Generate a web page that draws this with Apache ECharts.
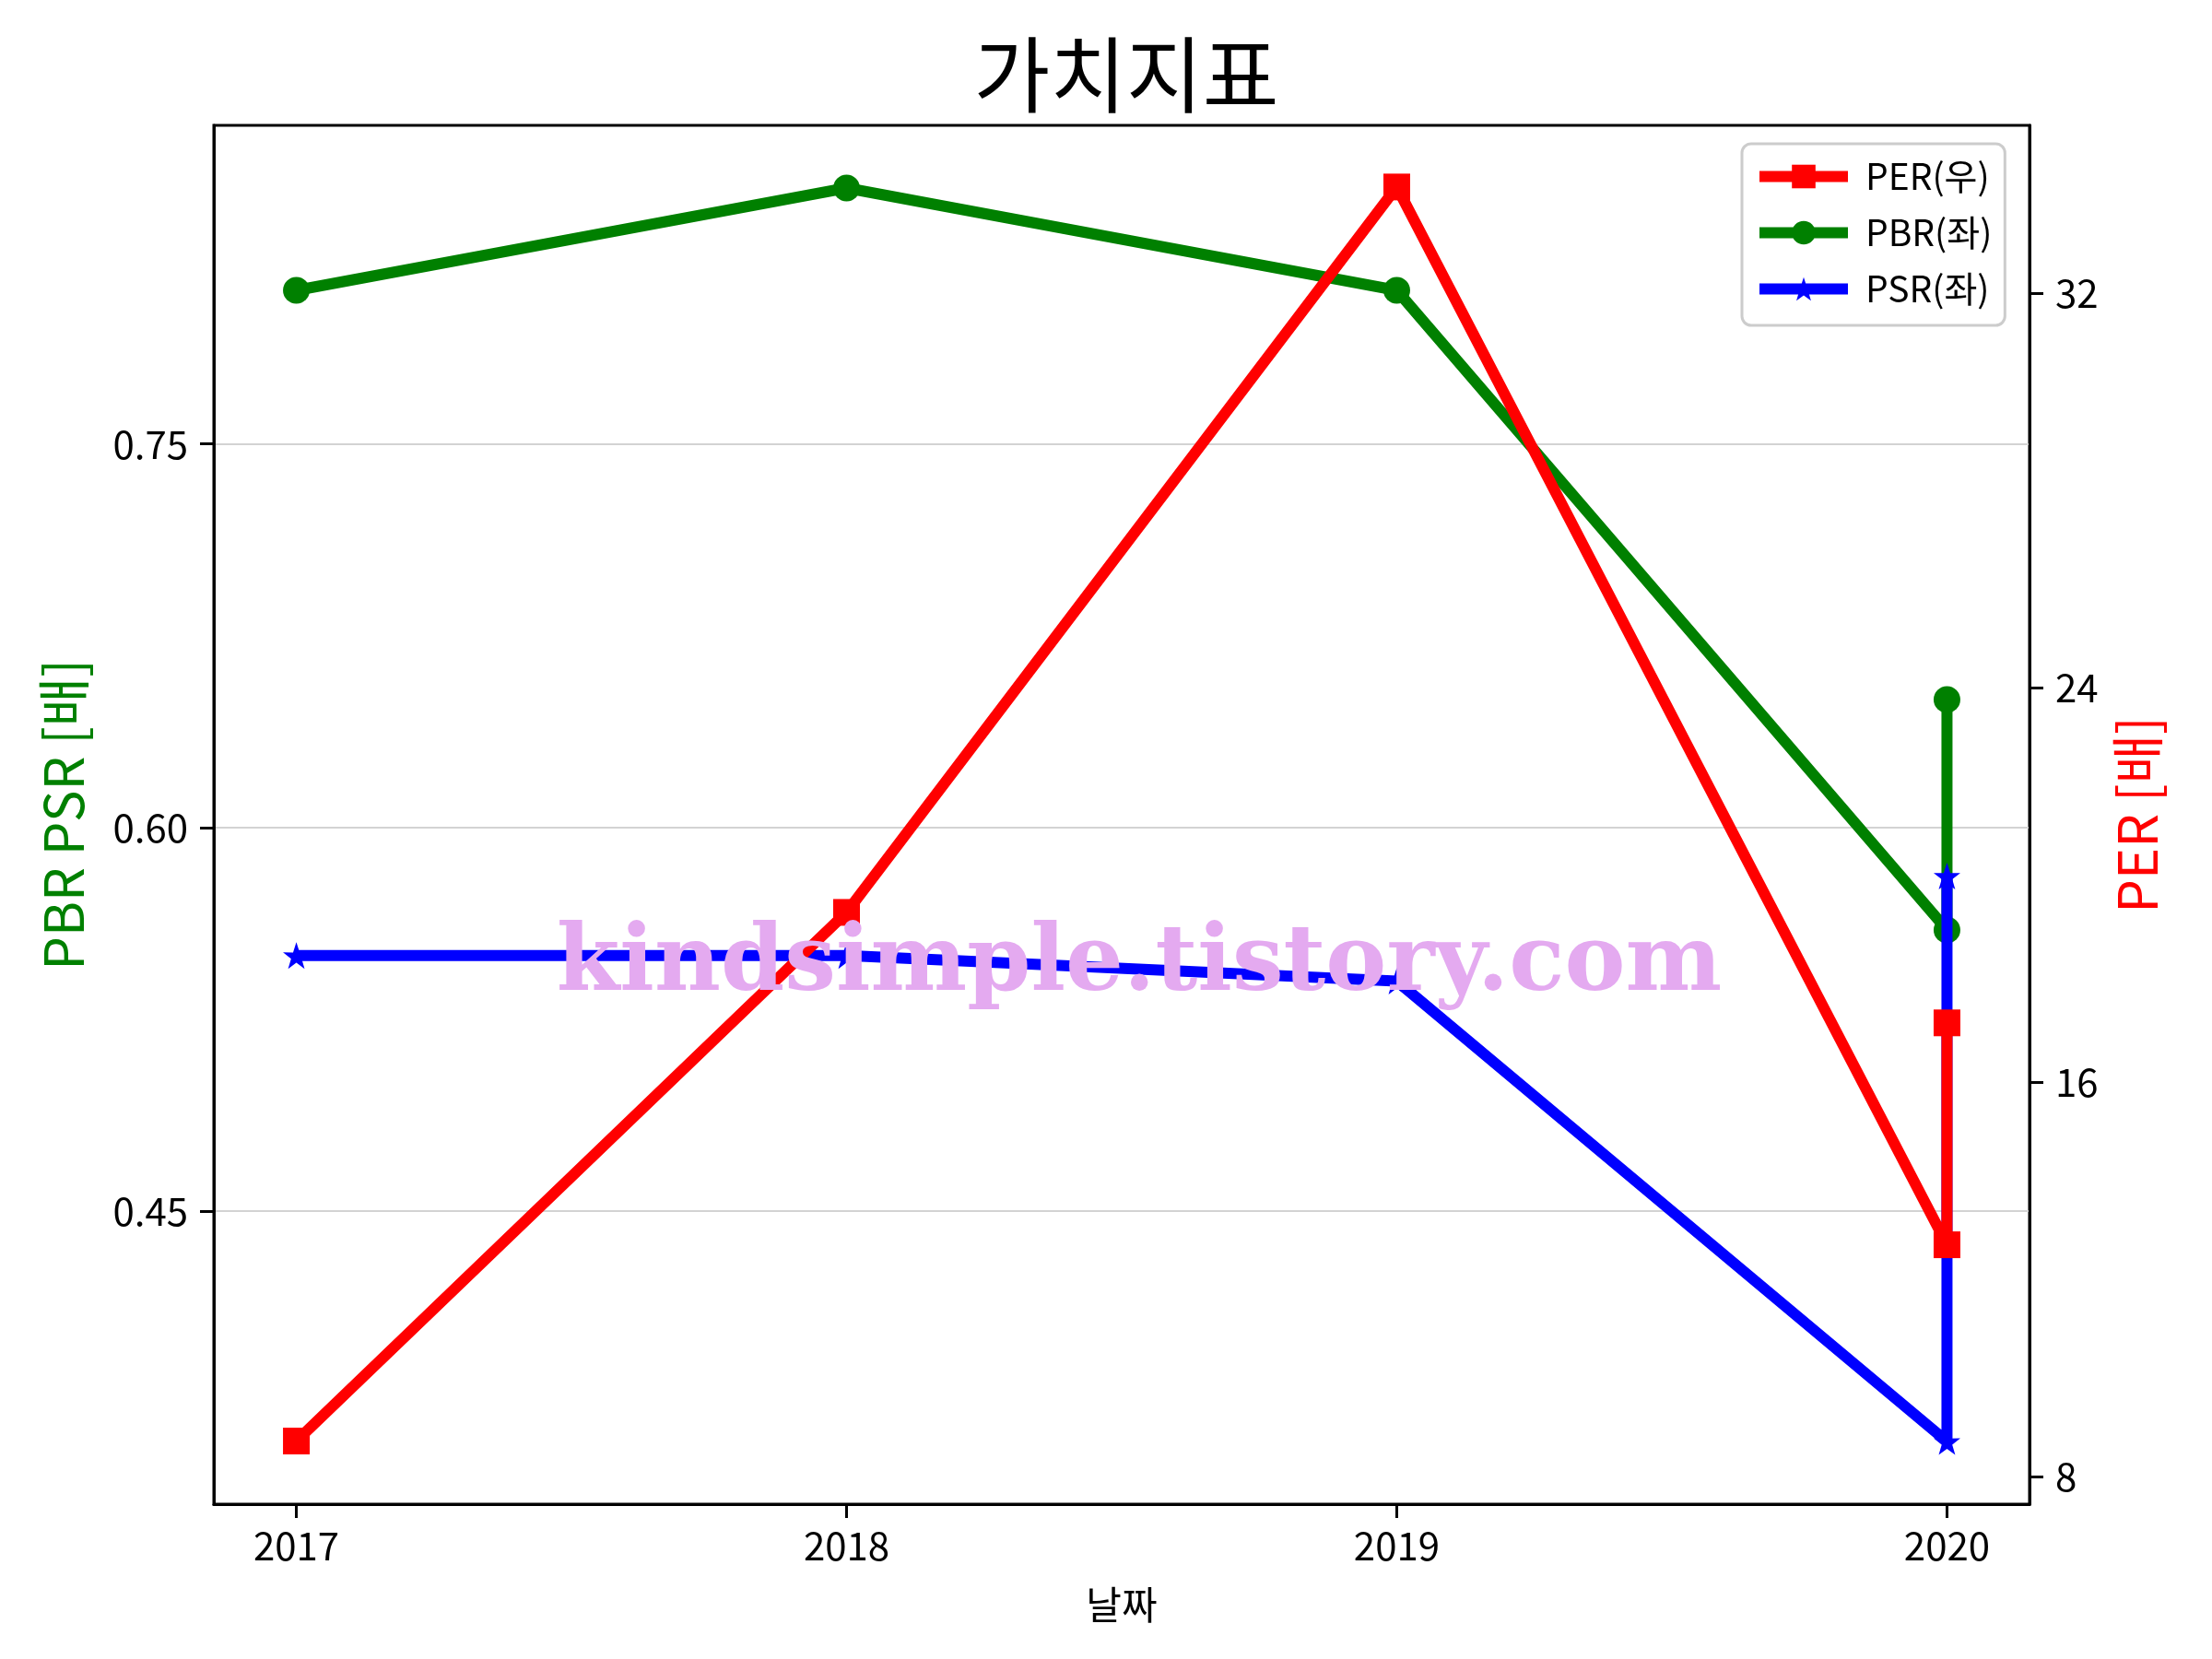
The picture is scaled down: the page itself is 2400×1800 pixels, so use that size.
<!DOCTYPE html>
<html>
<head>
<meta charset="utf-8">
<title>가치지표</title>
<script src="https://cdn.jsdelivr.net/npm/echarts@6/dist/echarts.min.js"></script>
<style>
  html, body { margin: 0; padding: 0; background: #fff; }
  #chart { width: 2400px; height: 1800px; }
</style>
</head>
<body>
<div id="chart"></div>
<script>
// 데이터
var years = [2017, 2018, 2019, 2020, 2020];
var perValues = [8.72, 19.44, 34.15, 12.70, 17.20];
var pbrValues = [0.810, 0.850, 0.810, 0.560, 0.650];
var psrValues = [0.550, 0.550, 0.540, 0.360, 0.581];

var xTicks = [2017, 2018, 2019, 2020];
var leftTicks = [0.45, 0.60, 0.75];
var rightTicks = [8, 16, 24, 32];

var FONT = '"Noto Sans CJK KR", "Noto Sans", sans-serif';
var STAR = 'path://M50,0 L61.8,35.1 L97.6,34.5 L68.8,56.2 L79.4,90.5 L50,70 L20.6,90.5 L31.2,56.2 L2.4,34.5 L38.2,35.1 Z';

function pairs(xs, ys) {
    var out = [];
    for (var i = 0; i < xs.length; i++) {
        out.push([xs[i], ys[i]]);
    }
    return out;
}

var chart = echarts.init(document.getElementById('chart'));

var axisLine = { show: true, lineStyle: { color: '#000', width: 3 } };
var axisTick = { show: true, inside: false, length: 15, lineStyle: { color: '#000', width: 3 } };

var option = {
    animation: false,
    backgroundColor: '#fff',
    title: {
        text: '가치지표',
        left: 1222,
        textAlign: 'center',
        top: 36,
        padding: 0,
        textStyle: { fontFamily: FONT, fontSize: 90, fontWeight: 'normal', color: '#000' }
    },
    legend: {
        orient: 'vertical',
        left: 1890,
        top: 156,
        padding: [16, 14, 20, 13],
        itemWidth: 96,
        itemHeight: 32,
        itemGap: 22,
        borderColor: '#cccccc',
        borderWidth: 3,
        borderRadius: 10,
        backgroundColor: 'rgba(255,255,255,0.8)',
        lineStyle: { width: 12 },
        textStyle: { fontFamily: FONT, fontSize: 39, color: '#000', padding: [0, 0, 0, 14] },
        data: ['PER(우)', 'PBR(좌)', 'PSR(좌)']
    },
    grid: {
        left: 232,
        right: 198,
        top: 136,
        bottom: 168,
        show: true,
        borderColor: '#000',
        borderWidth: 3,
        backgroundColor: 'transparent'
    },
    xAxis: {
        type: 'value',
        min: 2016.85,
        max: 2020.15,
        name: '날짜',
        nameLocation: 'middle',
        nameGap: 88,
        nameTextStyle: { fontFamily: FONT, fontSize: 42, color: '#000' },
        axisLine: axisLine,
        axisTick: Object.assign({ customValues: xTicks }, axisTick),
        axisLabel: {
            customValues: xTicks,
            margin: 24,
            fontFamily: FONT,
            fontSize: 42,
            color: '#000',
            formatter: function (v) { return String(v); }
        },
        splitLine: { show: false }
    },
    yAxis: [
        {
            type: 'value',
            position: 'left',
            min: 0.3355,
            max: 0.8745,
            name: 'PBR PSR [배]',
            nameLocation: 'middle',
            nameRotate: 90,
            nameGap: 134,
            nameTextStyle: { fontFamily: FONT, fontSize: 58, color: 'green' },
            axisLine: axisLine,
            axisTick: Object.assign({ customValues: leftTicks }, axisTick),
            axisLabel: {
                customValues: leftTicks,
                margin: 28,
                fontFamily: FONT,
                fontSize: 42,
                color: '#000',
                formatter: function (v) { return v.toFixed(2); }
            },
            splitLine: { show: true, lineStyle: { color: '#d3d3d3', width: 2 } }
        },
        {
            type: 'value',
            position: 'right',
            min: 7.44,
            max: 35.4,
            name: 'PER [배]',
            nameLocation: 'middle',
            nameRotate: 90,
            nameGap: 88,
            nameTextStyle: { fontFamily: FONT, fontSize: 58, color: 'red' },
            axisLine: axisLine,
            axisTick: Object.assign({ customValues: rightTicks }, axisTick),
            axisLabel: {
                customValues: rightTicks,
                margin: 28,
                fontFamily: FONT,
                fontSize: 42,
                color: '#000',
                formatter: function (v) { return String(v); }
            },
            splitLine: { show: false }
        }
    ],
    graphic: [
        {
            type: 'text',
            z: 100,
            x: 1236,
            y: 1048,
            style: {
                text: 'kindsimple.tistory.com',
                x: 0,
                y: 0,
                align: 'center',
                verticalAlign: 'middle',
                font: 'bold 99px "DejaVu Serif", serif',
                fill: '#e4aaf0'
            }
        }
    ],
    series: [
        {
            name: 'PER(우)',
            type: 'line',
            yAxisIndex: 1,
            z: 4,
            data: pairs(years, perValues),
            symbol: 'rect',
            symbolSize: 29,
            showAllSymbol: true,
            color: 'red',
            lineStyle: { color: 'red', width: 12 },
            itemStyle: { color: 'red' }
        },
        {
            name: 'PBR(좌)',
            type: 'line',
            yAxisIndex: 0,
            z: 2,
            data: pairs(years, pbrValues),
            symbol: 'circle',
            symbolSize: 29,
            showAllSymbol: true,
            color: 'green',
            lineStyle: { color: 'green', width: 12 },
            itemStyle: { color: 'green' }
        },
        {
            name: 'PSR(좌)',
            type: 'line',
            yAxisIndex: 0,
            z: 3,
            data: pairs(years, psrValues),
            symbol: STAR,
            symbolSize: 29,
            showAllSymbol: true,
            color: 'blue',
            lineStyle: { color: 'blue', width: 12 },
            itemStyle: { color: 'blue' }
        }
    ]
};

chart.setOption(option);
</script>
</body>
</html>
